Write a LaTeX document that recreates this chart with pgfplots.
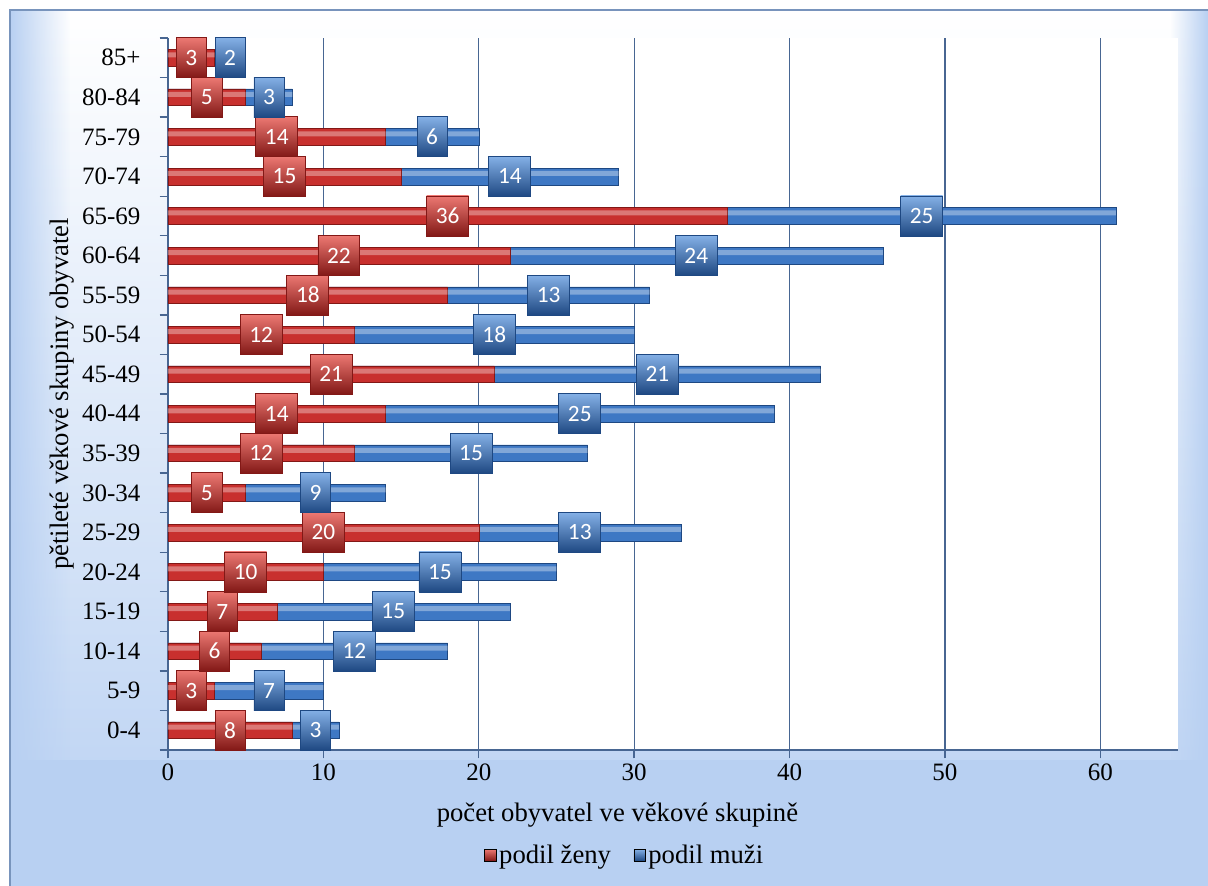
\documentclass[border=0pt]{standalone}
\usepackage{fontspec}
\setmainfont{Liberation Serif}
\newfontfamily\boxfont{Carlito}
\usepackage{pgfplots}
\pgfplotsset{compat=1.18}
\usepackage{pgfplotstable}
\usetikzlibrary{backgrounds,fadings}

\definecolor{redmid}{RGB}{200,48,46}
\definecolor{redlight}{RGB}{236,120,114}
\definecolor{reddark}{RGB}{130,24,22}
\definecolor{bluemid}{RGB}{62,120,196}
\definecolor{bluelight}{RGB}{132,176,230}
\definecolor{bluedark}{RGB}{30,72,130}
\definecolor{gridc}{RGB}{72,102,146}
\definecolor{bgblue}{RGB}{184,208,242}
\definecolor{framec}{RGB}{120,148,188}

% y = age group index, w = women, m = men
\pgfplotstableread{
y w m
0 8 3
1 3 7
2 6 12
3 7 15
4 10 15
5 20 13
6 5 9
7 12 15
8 14 25
9 21 21
10 12 18
11 18 13
12 22 24
13 36 25
14 15 14
15 14 6
16 5 3
17 3 2
}\pyramid

\tikzset{
  valbox/.style={anchor=center, inner xsep=5.5pt, inner ysep=0pt, minimum height=24pt,
    text=white, font=\boxfont\fontsize{14}{14}\selectfont, line width=0.5pt},
  redbox/.style={valbox, draw=reddark, top color=redlight, middle color=redmid, bottom color=reddark},
  bluebox/.style={valbox, draw=bluedark, top color=bluelight, middle color=bluemid, bottom color=bluedark},
}

\begin{document}
\begin{tikzpicture}
\begin{axis}[
  scale only axis, width=606pt, height=427.2pt,
  xmin=0, xmax=65, ymin=-0.5, ymax=17.5,
  clip=false,
  axis background/.style={fill=white},
  axis x line*=bottom, axis y line*=left,
  axis line style={draw=gridc, line width=0.8pt, -},
  xtick={0,10,...,60}, xmajorgrids,
  grid style={draw=gridc, line width=0.7pt},
  ytick={-0.5,0.5,...,17.5}, y tick label as interval,
  yticklabels={0-4,5-9,10-14,15-19,20-24,25-29,30-34,35-39,40-44,45-49,50-54,55-59,60-64,65-69,70-74,75-79,80-84,85+},
  tick align=outside, major tick length=5pt,
  tick style={draw=gridc, line width=0.8pt},
  ticklabel style={font=\fontsize{15}{15}\selectfont},
  yticklabel style={xshift=-8pt},
  /pgf/number format/assume math mode=true,
  xlabel={počet obyvatel ve věkové skupině},
  xlabel style={at={(axis description cs:0.445,-0.0913)}, anchor=center, font=\fontsize{16}{16}\selectfont},
  ylabel={pětileté věkové skupiny obyvatel},
  ylabel style={at={(axis description cs:-0.105,0.5)}, anchor=center, font=\fontsize{16}{16}\selectfont},
  legend columns=2,
  legend style={at={(axis description cs:0.4525,-0.1475)}, anchor=center, draw=none, fill=none,
    font=\fontsize{16}{16}\selectfont, /tikz/every even column/.append style={column sep=12pt},
    nodes={inner xsep=1.5pt}},
  legend image code/.code={\fill[#1] (0pt,-3.5pt) rectangle (7pt,3.5pt);},
]
\addlegendimage{top color=redlight, bottom color=reddark}
\addlegendentry{podil ženy}
\addlegendimage{top color=bluelight, bottom color=bluedark}
\addlegendentry{podil muži}

% men bar spans from 0 to w+m and is covered by the women bar
\addplot[forget plot, xbar, bar width=10pt, bar shift=0pt, draw=bluedark, line width=0.3pt, fill=bluemid]
  table[x expr=\thisrow{w}+\thisrow{m}, y=y]{\pyramid};
\addplot[forget plot, xbar, bar width=3pt, bar shift=1.8pt, draw=none, fill=white, fill opacity=0.35]
  table[x expr=\thisrow{w}+\thisrow{m}, y=y]{\pyramid};
\addplot[forget plot, xbar, bar width=10pt, bar shift=0pt, draw=reddark, line width=0.3pt, fill=redmid]
  table[x=w, y=y]{\pyramid};
\addplot[forget plot, xbar, bar width=3pt, bar shift=1.8pt, draw=none, fill=white, fill opacity=0.35]
  table[x=w, y=y]{\pyramid};

\addplot[forget plot, only marks, mark=none, point meta=explicit symbolic,
  nodes near coords={\pgfplotspointmeta},
  every node near coord/.append style={redbox}]
  table[x expr=\thisrow{w}/2, y=y, meta=w]{\pyramid};
\addplot[forget plot, only marks, mark=none, point meta=explicit symbolic,
  nodes near coords={\pgfplotspointmeta},
  every node near coord/.append style={bluebox}]
  table[x expr=\thisrow{w}+\thisrow{m}/2, y=y, meta=m]{\pyramid};
\end{axis}

\begin{scope}[on background layer, shift={(-100.8pt,450pt)}, x=0.6pt, y=-0.6pt]
  \fill[white] (0,0) rectangle (1208,886);
  \shade[top color=white, bottom color=bgblue] (10,10) rectangle (1208,886);
  \fill[bgblue, path fading=east] (10,10) rectangle (70,886);
  \fill[bgblue, path fading=west] (1170,10) rectangle (1208,886);
  \fill[bgblue] (10,760) rectangle (1208,886);
  \draw[framec, line width=1.2pt] (10,886) -- (10,10) -- (1208,10);
\end{scope}
\pgfresetboundingbox
\path[use as bounding box] (-100.8pt,-81.6pt) rectangle (624pt,450pt);
\end{tikzpicture}
\end{document}
